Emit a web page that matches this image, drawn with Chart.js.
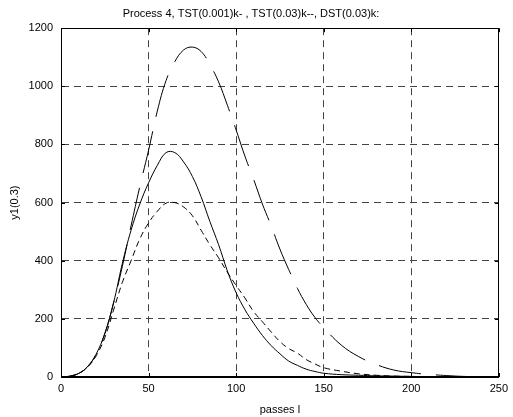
<!DOCTYPE html>
<html>
<head>
<meta charset="utf-8">
<script src="https://cdn.jsdelivr.net/npm/chart.js@4/dist/chart.umd.min.js"></script>
<style>
  html, body { margin: 0; padding: 0; background: #fff; }
  canvas { display: block; }
</style>
</head>
<body>
<canvas id="chart" width="513" height="417"></canvas>
<script>
// --- data ---
const passes = [0, 5, 10, 15, 20, 25, 30, 35, 40, 45, 50, 55, 60, 65, 70, 75, 80, 85, 90, 95,
  100, 105, 110, 115, 120, 125, 130, 135, 140, 145, 150, 160, 170, 180, 190, 200, 210, 220, 230, 240, 250];

// TST(0.001) k-  (solid)
const tst001 = [0, 3, 12, 35, 78, 150, 255, 390, 505, 595, 668, 728, 772, 772, 740, 690, 620, 535, 455, 365,
  290, 232, 185, 143, 108, 80, 55, 40, 27, 19, 13, 8, 6, 4, 3, 2, 1, 1, 0, 0, 0];

// TST(0.03) k--  (long dash)
const tst003 = [0, 3, 12, 34, 77, 148, 255, 380, 520, 655, 780, 915, 1020, 1085, 1125, 1135, 1120, 1075, 1015, 935,
  850, 760, 680, 595, 520, 440, 370, 305, 250, 205, 170, 110, 70, 43, 24, 15, 9, 5, 2, 1, 0];

// DST(0.03) k:  (short dash)
const dst003 = [0, 3, 12, 33, 72, 135, 230, 325, 400, 475, 530, 570, 598, 600, 585, 555, 505, 455, 410, 360,
  315, 272, 225, 190, 155, 122, 98, 82, 60, 45, 32, 20, 11, 6, 3, 2, 1, 0, 0, 0, 0];

const xTicks = [0, 50, 100, 150, 200, 250];
const yTicks = [0, 200, 400, 600, 800, 1000, 1200];

const FONT = 'Liberation Sans, Arial, Helvetica, sans-serif';
const pts = ys => passes.map((x, i) => ({ x, y: ys[i] }));

// MATLAB-ish box with inner tick marks
const frame = {
  id: 'frame',
  afterDatasetsDraw(chart) {
    const { ctx, chartArea: a, scales: { x, y } } = chart;
    ctx.save();
    ctx.strokeStyle = '#000';
    ctx.lineWidth = 1;
    ctx.setLineDash([]);
    ctx.strokeRect(Math.round(a.left) + 0.5, Math.round(a.top) + 0.5,
      Math.round(a.width) - 1, Math.round(a.height) - 1);
    const len = 4;
    ctx.beginPath();
    xTicks.forEach(v => {
      const px = Math.round(x.getPixelForValue(v)) + 0.5;
      ctx.moveTo(px, a.bottom); ctx.lineTo(px, a.bottom - len);
      ctx.moveTo(px, a.top); ctx.lineTo(px, a.top + len);
    });
    yTicks.forEach(v => {
      const py = Math.round(y.getPixelForValue(v)) + 0.5;
      ctx.moveTo(a.left, py); ctx.lineTo(a.left + len, py);
      ctx.moveTo(a.right, py); ctx.lineTo(a.right - len, py);
    });
    ctx.stroke();
    ctx.restore();
  }
};

const line = (label, ys, dash) => ({
  label,
  data: pts(ys),
  borderColor: '#000',
  borderWidth: 1,
  borderDash: dash,
  pointRadius: 0,
  fill: false,
  showLine: true,
  tension: 0.4,
});

new Chart(document.getElementById('chart'), {
  type: 'scatter',
  data: {
    datasets: [
      line('TST(0.001)', tst001, []),
      line('TST(0.03)', tst003, [43, 15]),
      line('DST(0.03)', dst003, [6, 4]),
    ],
  },
  options: {
    responsive: false,
    devicePixelRatio: 1,
    animation: false,
    layout: { padding: { left: 0, right: 11, top: 0, bottom: 0 } },
    plugins: {
      legend: { display: false },
      tooltip: { enabled: false },
      title: {
        display: true,
        text: 'Process 4, TST(0.001)k- , TST(0.03)k--, DST(0.03)k:',
        color: '#000',
        font: { family: FONT, size: 11, weight: 'normal' },
        padding: { top: 7, bottom: 8 },
      },
    },
    scales: {
      x: {
        type: 'linear',
        min: 0, max: 250,
        afterFit: s => { s.height = 40; },
        afterBuildTicks: s => { s.ticks = xTicks.map(value => ({ value })); },
        ticks: { color: '#000', font: { family: FONT, size: 11 }, padding: 5, maxRotation: 0,
          callback: v => String(v) },
        grid: { color: '#444', lineWidth: 1, drawTicks: false },
        border: { display: true, color: '#000', width: 1, dash: [7, 5] },
        title: {
          display: true, text: 'passes l', color: '#000',
          font: { family: FONT, size: 11 }, padding: { top: 3, bottom: 0 },
        },
      },
      y: {
        type: 'linear',
        min: 0, max: 1200,
        afterFit: s => { s.width = 61; },
        afterBuildTicks: s => { s.ticks = yTicks.map(value => ({ value })); },
        ticks: { color: '#000', font: { family: FONT, size: 11 }, padding: 8,
          callback: v => String(v) },
        grid: { color: '#444', lineWidth: 1, drawTicks: false },
        border: { display: true, color: '#000', width: 1, dash: [7, 5] },
        title: {
          display: true, text: 'y1(0.3)', color: '#000',
          font: { family: FONT, size: 11 }, padding: { top: 8, bottom: 0 },
        },
      },
    },
  },
  plugins: [frame],
});
</script>
</body>
</html>
